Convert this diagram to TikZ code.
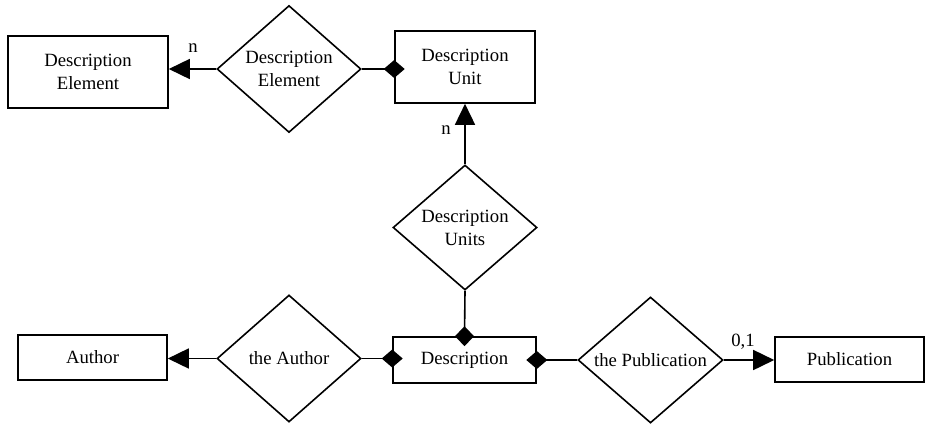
\documentclass[tikz,border=0pt]{standalone}
\usepackage{fontspec}
\setmainfont{Liberation Serif}
\usetikzlibrary{shapes.geometric,arrows.meta}
\begin{document}
\begin{tikzpicture}[x=1pt,y=-1pt,
  every node/.style={font=\fontsize{18.7}{23}\selectfont},
  entity/.style={draw,line width=1.6pt,rectangle,inner sep=0pt,align=center},
  relation/.style={draw,line width=1.6pt,diamond,inner sep=0pt,align=center},
  link/.style={line width=1.6pt},
  tolink/.style={line width=1.6pt,-{Triangle[length=21pt,width=20pt]}},
  card/.style={inner sep=0pt}]
\useasboundingbox (0,0) rectangle (925,426);

% entities
\node[entity,minimum width=160pt,minimum height=72pt] (de) at (88,72) {Description\\Element};
\node[entity,minimum width=140pt,minimum height=72pt] (du) at (465,67) {Description\\Unit};
\node[entity,minimum width=143pt,minimum height=46pt] (desc) at (464.5,360) {Description};
\node[entity,minimum width=149pt,minimum height=45pt] (author) at (92.5,357.5) {Author};
\node[entity,minimum width=149pt,minimum height=45pt] (pub) at (849.5,359.5) {Publication};

% relationships
\node[relation,minimum width=144pt,minimum height=127pt] (rde) at (289,69) {Description\\Element};
\node[relation,minimum width=144pt,minimum height=125pt] (rdu) at (465,227.5) {Description\\Units};
\node[relation,minimum width=144pt,minimum height=127pt] (rau) at (289,358.5) {the Author};
\node[relation,minimum width=145pt,minimum height=126pt] (rpu) at (650.5,360) {the Publication};

% connectors
\draw[tolink] (rde.west) -- (rde.west -| de.east);
\draw[link] (rde.east) -- (rde.east -| du.west);
\draw[tolink] (rdu.north) -- (du.south);
\draw[link] (rdu.south) -- (desc.north);
\draw[tolink] (rau.west) -- (rau.west -| author.east);
\draw[link] (rau.east) -- (rau.east -| desc.west);
\draw[link] (desc.east) -- (rpu.west);
\draw[tolink] (rpu.east) -- (rpu.east -| pub.west);

% aggregation markers: filled diamonds on the whole's edge
\coordinate (a1) at (rde.east -| du.west);
\coordinate (a2) at (desc.north);
\coordinate (a3) at (rau.east -| desc.west);
\coordinate (a4) at (desc.east);
\foreach \p in {a1,a3,a4}
  \fill ([xshift=-10.5pt]\p) -- ([yshift=-9pt]\p) -- ([xshift=10.5pt]\p) -- ([yshift=9pt]\p) -- cycle;
\fill ([xshift=-9.5pt]a2) -- ([yshift=-10pt]a2) -- ([xshift=9.5pt]a2) -- ([yshift=10pt]a2) -- cycle;

% cardinalities
\node[card] (c1) at (193,48) {n};
\node[card] (c2) at (446,130) {n};
\node[card] (c3) at (743,342) {0,1};
\end{tikzpicture}
\end{document}
